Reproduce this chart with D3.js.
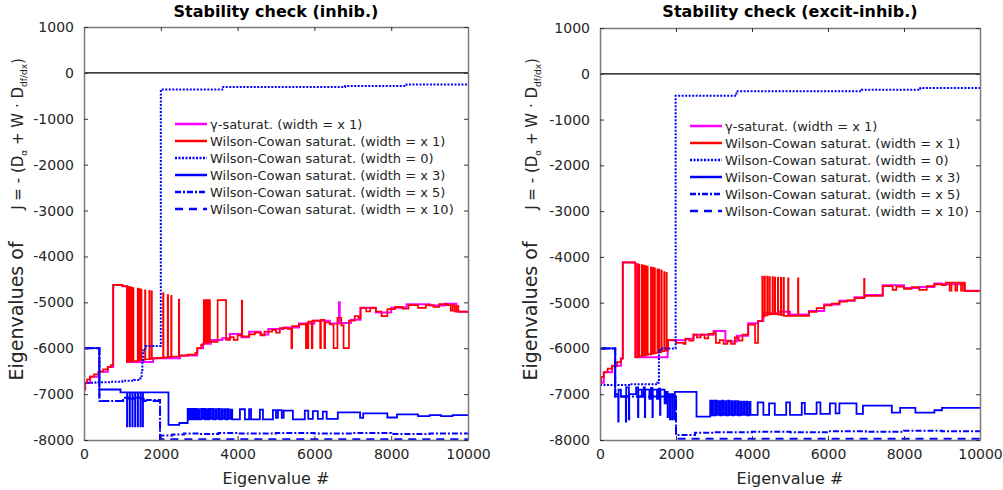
<!DOCTYPE html>
<html>
<head>
<meta charset="utf-8">
<script src="https://cdn.jsdelivr.net/npm/d3@7"></script>
<style>
  body { margin: 0; background: #fff; }
  text { font-family: "DejaVu Sans", sans-serif; }
</style>
</head>
<body>
<div id="chart"></div>
<script>
// tick values and legend labels
const xTicks = [0, 2000, 4000, 6000, 8000, 10000];
const yTicks = [1000, 0, -1000, -2000, -3000, -4000, -5000, -6000, -7000, -8000];
const titles = ["Stability check (inhib.)", "Stability check (excit-inhib.)"];
const legendLabels = [
  "\u03b3-saturat. (width = x 1)",
  "Wilson-Cowan saturat. (width = x 1)",
  "Wilson-Cowan saturat. (width = 0)",
  "Wilson-Cowan saturat. (width = x 3)",
  "Wilson-Cowan saturat. (width = x 5)",
  "Wilson-Cowan saturat. (width = x 10)"
];

// ---- inhib. panel, step series [eigenvalue #, value]
const gammaInhib = [[0,-6000],[2,-6900],[30,-6760],[160,-6620],[380,-6510],[620,-6410],[760,-4620],[1000,-4650],[1120,-6300],[1800,-6220],[2500,-6160],[2950,-6000],[3100,-5900],[3300,-5820],[3600,-5780],[3800,-5690],[4100,-5760],[4300,-5640],[4600,-5700],[4800,-5580],[5200,-5550],[5600,-5460],[6000,-5400],[6400,-5460],[6640,-5000],[6660,-5450],[6950,-5380],[7200,-5120],[7600,-5220],[8000,-5120],[8400,-5040],[9000,-5070],[9400,-5030],[9700,-5200],[10000,-5200]];
const wcInhib1 = [[0,-6000],[2,-6900],[30,-6760],[80,-6680],[160,-6620],[260,-6570],[380,-6510],[500,-6460],[620,-6410],[700,-6370],[760,-4620],[1000,-4650],
  [1120,-6300],[1140,-4660],[1148,-6300],[1170,-4660],[1178,-6290],[1200,-4670],[1208,-6290],[1240,-4680],[1248,-6280],[1280,-4690],[1288,-6280],
  [1400,-4700],[1408,-6260],[1440,-4710],[1448,-6260],[1490,-4720],[1498,-6250],[1590,-4740],[1598,-6240],[1700,-4750],[1708,-6230],[1760,-4760],[1768,-6220],
  [1900,-6210],[2060,-4800],[2070,-6200],[2180,-4840],[2190,-6190],[2270,-4860],[2280,-6180],[2470,-4940],[2480,-6160],[2700,-6140],[2900,-6100],[2950,-6000],[3050,-5920],
  [3120,-4950],[3160,-5880],[3180,-4950],[3220,-5880],[3240,-4950],[3280,-5860],[3480,-4950],[3700,-5820],
  [3800,-5760],[3900,-5820],[4000,-5720],[4110,-4960],[4120,-5740],[4300,-5700],[4450,-5660],[4600,-5720],[4700,-5640],[4900,-5600],[5000,-5660],[5100,-5560],[5300,-5580],
  [5400,-6000],[5420,-5520],[5600,-5480],[5780,-6000],[5800,-5460],[5820,-6000],[5840,-5420],[5930,-6000],[5950,-5400],[6150,-6000],[6170,-5380],[6260,-6000],[6280,-5440],[6400,-5480],
  [6500,-6000],[6600,-5340],[6700,-5500],[6760,-6000],[6900,-5400],[7050,-5300],[7150,-5350],[7200,-5120],[7350,-5200],[7450,-5120],[7600,-5200],[7750,-5300],[7900,-5150],
  [8100,-5100],[8300,-5140],[8450,-5060],[8700,-5120],[8900,-5060],[9100,-5100],[9250,-5040],[9450,-5060],[9550,-5180],[9600,-5060],[9650,-5200],[9700,-5080],[9750,-5210],[10000,-5210]];
const wcInhib0 = [[0,-6750],[300,-6740],[700,-6730],[1000,-6710],[1300,-6690],[1460,-6660],[1500,-6500],[1520,-6300],[1540,-6050],[1600,-5950],[2000,-360],[3600,-305],[6800,-283],[8400,-255],[10000,-255]];
const wcInhib3 = [[0,-3200],[2,-6000],[400,-6900],[950,-6960],
  [1120,-7700],[1126,-6960],[1190,-7700],[1196,-6960],[1260,-7700],[1266,-6960],[1330,-7700],[1336,-6960],[1400,-7700],[1406,-6960],[1470,-7700],[1476,-6960],[1530,-7700],[1536,-6960],
  [2200,-7670],[2480,-7630],
  [2700,-7320],[2730,-7550],[2760,-7320],[2790,-7550],[2830,-7320],[2860,-7550],[2900,-7320],[2930,-7550],[2970,-7330],[3000,-7550],[3050,-7320],[3080,-7540],[3120,-7320],[3150,-7550],[3190,-7330],[3220,-7550],
  [3260,-7320],[3290,-7540],[3340,-7320],[3370,-7550],[3420,-7330],[3450,-7540],[3500,-7320],[3530,-7550],[3580,-7330],[3610,-7540],[3660,-7330],[3690,-7550],[3740,-7330],[3770,-7540],[3820,-7340],[3860,-7550],
  [4060,-7330],[4190,-7550],[4300,-7330],[4350,-7550],[4580,-7340],[4660,-7550],[4920,-7350],[5000,-7520],[5050,-7350],[5150,-7520],[5200,-7360],[5440,-7550],[5750,-7360],[5840,-7540],[5960,-7370],[6090,-7540],
  [6220,-7380],[6320,-7540],[6610,-7400],[7190,-7520],[7270,-7420],[7900,-7510],[8150,-7440],[8700,-7480],[9000,-7460],[9300,-7480],[9600,-7460],[10000,-7470]];
const wcInhib5 = [[0,-6000],[400,-7150],[1020,-7080],[1550,-7130],[1980,-7900],[2300,-7880],[2600,-7860],[3000,-7870],[3500,-7850],[4000,-7860],[5000,-7850],[6000,-7860],[7000,-7850],[8000,-7870],[9000,-7860],[10000,-7860]];
const wcInhib10 = [[0,-6000],[400,-7150],[1020,-7100],[1550,-7150],[1980,-7985],[10000,-7985]];

// ---- excit-inhib. panel
const gammaExcit = [[0,-6000],[2,-6750],[100,-6520],[320,-6380],[550,-6220],[600,-4120],[920,-4150],[950,-6190],[1780,-6040],[1790,-5820],[2250,-5790],[2460,-5700],[2990,-5620],[3300,-5850],[3600,-5720],[3900,-5450],[4160,-5400],[4300,-5230],[4700,-5200],[5000,-5260],[5500,-5180],[5900,-5040],[6300,-4960],[6700,-4880],[6970,-4830],[7440,-4620],[8000,-4680],[8400,-4660],[8800,-4580],[9000,-4600],[9600,-4740],[10000,-4740]];
const wcExcit1 = [[0,-6000],[2,-6750],[30,-6620],[100,-6520],[200,-6440],[320,-6380],[450,-6300],[550,-6220],[600,-4120],[920,-4150],
  [925,-6190],[990,-4160],[996,-6180],[1030,-4170],[1036,-6170],[1100,-4180],[1106,-6160],[1150,-4190],[1156,-6150],[1200,-4200],[1206,-6140],[1250,-4210],[1256,-6130],
  [1340,-4230],[1346,-6120],[1390,-4240],[1396,-6110],[1440,-4250],[1446,-6100],[1510,-4270],[1516,-6090],[1560,-4280],[1566,-6080],[1620,-4300],[1626,-6060],[1690,-4330],[1696,-6050],[1750,-4350],[1756,-6040],
  [1790,-5820],[2000,-5880],[2200,-5900],[2250,-5790],[2350,-5830],[2460,-5700],[2550,-5760],[2650,-5700],[2750,-5780],[2850,-5680],[2990,-5650],[3050,-5880],[3150,-5820],[3250,-5900],[3350,-5830],
  [3450,-5900],[3550,-5760],[3650,-5830],[3750,-5700],[3900,-5480],[4080,-5880],[4160,-5400],
  [4270,-4430],[4280,-5300],[4330,-4430],[4340,-5280],[4400,-4430],[4410,-5260],[4460,-4440],[4470,-5250],[4540,-4440],[4550,-5250],[4600,-4450],[4610,-5250],[4680,-4450],[4690,-5260],
  [4760,-4460],[4770,-5270],[4830,-4460],[4840,-5290],[4950,-4470],[4960,-5290],[5210,-4470],[5220,-5290],[5500,-5200],[5700,-5120],[5900,-5060],[6100,-5020],[6300,-4980],[6500,-4950],[6700,-4900],
  [6950,-4480],[6960,-4850],[7440,-4640],[7700,-4720],[7800,-4650],[8000,-4700],[8200,-4660],[8400,-4720],[8600,-4640],[8800,-4600],[9000,-4620],[9100,-4560],[9200,-4740],[9250,-4560],[9350,-4740],[9400,-4560],[9500,-4740],[9550,-4560],[9600,-4750],[10000,-4750]];
const wcExcit0 = [[0,-6800],[800,-6780],[1510,-6750],[1550,-6030],[1600,-6000],[1990,-480],[3590,-380],[6890,-350],[8430,-310],[10000,-310]];
const wcExcit3 = [[0,-3200],[2,-6000],
  [400,-7000],[480,-7600],[490,-6900],[550,-7050],[680,-7600],[690,-6850],[760,-7550],[770,-7000],[950,-6850],[1000,-7500],[1010,-6900],[1100,-7050],[1150,-6850],[1180,-7500],[1190,-6900],
  [1300,-7100],[1340,-6860],[1380,-7500],[1390,-6900],[1500,-7100],[1540,-6880],[1580,-7450],[1590,-6900],[1700,-7200],[1740,-6950],[1780,-7500],[1790,-7000],[1840,-7550],[1850,-7000],[1900,-7550],[1910,-7000],[1960,-7550],
  [1970,-6950],[2540,-7490],
  [2900,-7140],[2930,-7460],[2970,-7140],[3000,-7460],[3050,-7140],[3080,-7450],[3130,-7150],[3160,-7460],[3210,-7140],[3240,-7450],[3290,-7150],[3320,-7460],[3370,-7140],[3400,-7450],[3450,-7150],[3480,-7460],
  [3530,-7150],[3560,-7450],[3610,-7150],[3640,-7460],[3690,-7160],[3720,-7450],[3770,-7160],[3800,-7450],[3850,-7160],[3880,-7460],[3930,-7170],[3960,-7450],
  [4150,-7180],[4300,-7450],[4450,-7200],[4600,-7450],[4900,-7180],[5000,-7450],[5310,-7190],[5390,-7430],[5700,-7180],[5800,-7430],[6050,-7200],[6200,-7420],[6300,-7200],[6750,-7430],[6920,-7250],[7680,-7400],
  [7900,-7300],[8300,-7400],[8800,-7350],[9000,-7300],[10000,-7300]];
const wcExcit5 = [[0,-6000],[400,-7050],[2000,-7890],[2500,-7840],[3000,-7830],[4000,-7820],[5000,-7830],[6000,-7810],[7000,-7820],[8000,-7800],[9000,-7810],[10000,-7800]];
const wcExcit10 = [[0,-6000],[400,-7050],[2000,-7975],[10000,-7975]];

const styles = [
  { color: "#ff00ff", width: 2, dash: null },
  { color: "#ff0000", width: 1.7, dash: null },
  { color: "#0000ff", width: 2, dash: "2,1.5" },
  { color: "#0000ff", width: 1.8, dash: null },
  { color: "#0000ff", width: 2, dash: "6,2,2,2" },
  { color: "#0000ff", width: 2, dash: "8,6" }
];

const svg = d3.select("#chart").append("svg")
  .attr("width", 1003)
  .attr("height", 490);

function drawPanel(p) {
  const x = d3.scaleLinear().domain([0, 10000]).range([p.left, p.right]);
  const y = d3.scaleLinear().domain([-8000, 1000]).range([p.bottom, p.top]);
  const g = svg.append("g");
  const fmt = d => String(d);

  g.append("clipPath").attr("id", "clip" + p.id)
    .append("rect")
    .attr("x", p.left).attr("y", p.top)
    .attr("width", p.right - p.left).attr("height", p.bottom - p.top);

  // zero line
  g.append("line")
    .attr("x1", p.left).attr("x2", p.right)
    .attr("y1", y(0)).attr("y2", y(0))
    .attr("stroke", "#000").attr("stroke-width", 1.3);

  const line = d3.line()
    .x(d => x(d[0]))
    .y(d => y(d[1]))
    .curve(d3.curveStepAfter);

  p.series.forEach((s, i) => {
    g.append("path")
      .attr("clip-path", "url(#clip" + p.id + ")")
      .attr("fill", "none")
      .attr("stroke", styles[i].color)
      .attr("stroke-width", styles[i].width)
      .attr("stroke-dasharray", styles[i].dash)
      .attr("d", line(s));
  });

  // box + inward ticks
  const axisColor = "#7a7a7a";
  g.append("g").attr("transform", "translate(0," + p.bottom + ")")
    .call(d3.axisBottom(x).tickValues(xTicks).tickFormat(fmt).tickSizeInner(-4).tickSizeOuter(0).tickPadding(9))
    .call(a => a.selectAll("text").attr("font-size", "14px").attr("fill", "#262626"));
  g.append("g").attr("transform", "translate(0," + p.top + ")")
    .call(d3.axisTop(x).tickValues(xTicks).tickSizeInner(-4).tickSizeOuter(0).tickFormat(""));
  g.append("g").attr("transform", "translate(" + p.left + ",0)")
    .call(d3.axisLeft(y).tickValues(yTicks).tickFormat(fmt).tickSizeInner(-4).tickSizeOuter(0).tickPadding(10))
    .call(a => a.selectAll("text").attr("font-size", "14px").attr("fill", "#262626"));
  g.append("g").attr("transform", "translate(" + p.right + ",0)")
    .call(d3.axisRight(y).tickValues(yTicks).tickSizeInner(-4).tickSizeOuter(0).tickFormat(""));
  g.selectAll(".domain").attr("stroke", axisColor).attr("stroke-width", 1.5);
  g.selectAll(".tick line").attr("stroke", "#333");
  g.selectAll(".tick text").attr("font-family", "DejaVu Sans, sans-serif");

  // title
  g.append("text")
    .attr("x", (p.left + p.right) / 2).attr("y", 17)
    .attr("text-anchor", "middle")
    .attr("font-size", "16px").attr("font-weight", "bold")
    .text(p.title);

  // x label
  g.append("text")
    .attr("x", (p.left + p.right) / 2).attr("y", 484)
    .attr("text-anchor", "middle")
    .attr("font-size", "16px").attr("fill", "#262626")
    .text("Eigenvalue #");

  // y label (two pieces, rotated)
  g.append("text")
    .attr("transform", "translate(" + p.ylab + ",311) rotate(-90)")
    .attr("text-anchor", "middle")
    .attr("font-size", "19px").attr("fill", "#262626")
    .text("Eigenvalues of");
  const t2 = g.append("text")
    .attr("transform", "translate(" + p.ylab + ",134) rotate(-90)")
    .attr("text-anchor", "middle")
    .attr("font-size", "15px").attr("fill", "#262626");
  t2.append("tspan").text("J = - (D");
  t2.append("tspan").attr("font-size", "9px").attr("dy", 4).text("\u03b1");
  t2.append("tspan").attr("dy", -4).text(" + W \u00b7 D");
  t2.append("tspan").attr("font-size", "9px").attr("dy", 4).text("df/dx");
  t2.append("tspan").attr("dy", -4).text(")");

  // legend
  legendLabels.forEach((lab, i) => {
    const ly = p.legY + i * 17;
    g.append("line")
      .attr("x1", p.legX).attr("x2", p.legX + 32)
      .attr("y1", ly).attr("y2", ly)
      .attr("stroke", styles[i].color)
      .attr("stroke-width", 2.5)
      .attr("stroke-dasharray", styles[i].dash);
    g.append("text")
      .attr("x", p.legX + 35).attr("y", ly)
      .attr("dy", "0.35em")
      .attr("font-size", "13px").attr("fill", "#262626")
      .text(lab);
  });
}

drawPanel({
  id: 0, left: 84, right: 468, top: 27, bottom: 440, ylab: 23,
  title: titles[0], legX: 175, legY: 124,
  series: [gammaInhib, wcInhib1, wcInhib0, wcInhib3, wcInhib5, wcInhib10]
});
drawPanel({
  id: 1, left: 600, right: 980, top: 28, bottom: 440, ylab: 537,
  title: titles[1], legX: 690, legY: 126,
  series: [gammaExcit, wcExcit1, wcExcit0, wcExcit3, wcExcit5, wcExcit10]
});
</script>
</body>
</html>
